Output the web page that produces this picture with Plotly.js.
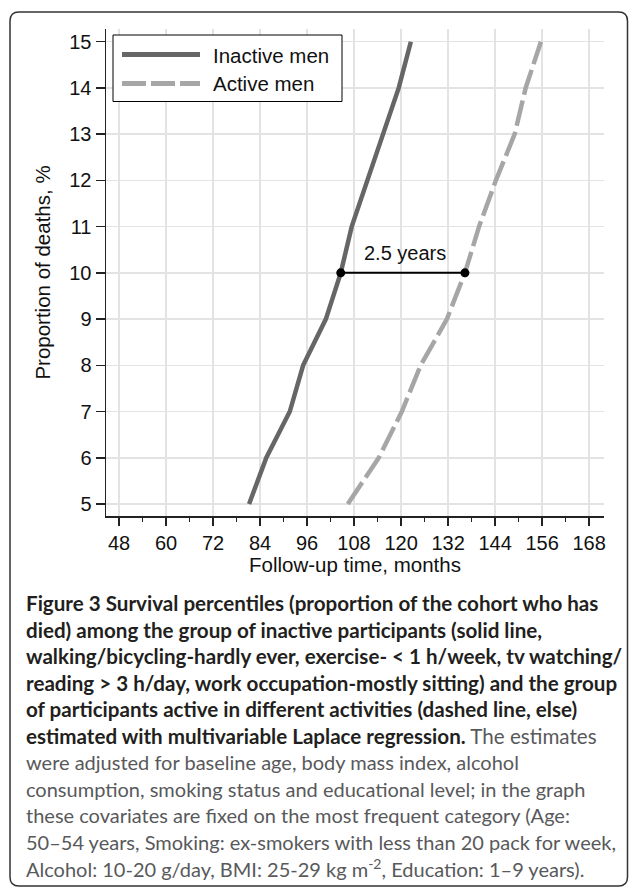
<!DOCTYPE html>
<html>
<head>
<meta charset="utf-8">
<script src="https://cdn.plot.ly/plotly-3.0.1.min.js"></script>
<style>
html,body{margin:0;padding:0;background:#fff;}
#chart{width:629px;height:887px;}
</style>
</head>
<body>
<div id="chart"></div>
<script>
// ---- data ----
var deathProportion = [5, 6, 7, 8, 9, 10, 11, 12, 13, 14, 15];
var inactiveMonths = [81.2, 85.6, 91.6, 95.0, 100.8, 104.6, 107.4, 111.5, 115.3, 119.4, 122.5];
var activeMonths   = [106.4, 114.3, 120.2, 125.0, 131.7, 136.3, 139.9, 144.2, 149.0, 151.8, 155.7];
var seriesNames = ["Inactive men", "Active men"];
var xTicks = [48, 60, 72, 84, 96, 108, 120, 132, 144, 156, 168];
var yTicks = [5, 6, 7, 8, 9, 10, 11, 12, 13, 14, 15];
var gapLevel = 10;
var gapLabel = "2.5 years";
var captionLines = [
  "<b>Figure 3 Survival percentiles (proportion of the cohort who has</b>",
  "<b>died) among the group of inactive participants (solid line,</b>",
  "<b>walking/bicycling-hardly ever, exercise- &lt; 1 h/week, tv watching/</b>",
  "<b>reading &gt; 3 h/day, work occupation-mostly sitting) and the group</b>",
  "<b>of participants active in different activities (dashed line, else)</b>",
  "<b>estimated with multivariable Laplace regression.</b><span style=\"color:#58595b\"> The estimates</span>",
  "<span style=\"color:#58595b\">were adjusted for baseline age, body mass index, alcohol</span>",
  "<span style=\"color:#58595b\">consumption, smoking status and educational level; in the graph</span>",
  "<span style=\"color:#58595b\">these covariates are fixed on the most frequent category (Age:</span>",
  "<span style=\"color:#58595b\">50–54 years, Smoking: ex-smokers with less than 20 pack for week,</span>",
  "<span style=\"color:#58595b\">Alcohol: 10-20 g/day, BMI: 25-29 kg m<sup>-2</sup>, Education: 1–9 years).</span>"
];
var captionBold = [true, true, true, true, true, true, false, false, false, false, false];

// ---- layout geometry (pixels) ----
var W = 629, H = 887;
var M = {l: 106, r: 25, t: 29, b: 371};
var PW = W - M.l - M.r, PH = H - M.t - M.b;
function px(x) { return (x - M.l) / PW; }
function py(y) { return (M.t + PH - y) / PH; }

var gi = deathProportion.indexOf(gapLevel);
var gapX = [inactiveMonths[gi], activeMonths[gi]];

var AX_FONT = 'Liberation Sans, Arial, sans-serif';

var traces = [
  {x: inactiveMonths, y: deathProportion, mode: 'lines', name: seriesNames[0],
   line: {color: '#666666', width: 4.5}, showlegend: false, hoverinfo: 'x+y'},
  {x: activeMonths, y: deathProportion, mode: 'lines', name: seriesNames[1],
   line: {color: '#a6a6a6', width: 4.5, dash: '26px,6px'}, showlegend: false, hoverinfo: 'x+y'},
  {x: gapX, y: [gapLevel, gapLevel], mode: 'lines+markers', showlegend: false,
   line: {color: '#000', width: 2}, marker: {color: '#000', size: 9}, hoverinfo: 'skip'}
];

function pathFrom(x0, y0, x1, y1, r) {
  function P(a, b) { return px(a).toFixed(5) + ',' + py(b).toFixed(5); }
  return 'M' + P(x0 + r, y0) + ' L' + P(x1 - r, y0) + ' Q' + P(x1, y0) + ' ' + P(x1, y0 + r) +
         ' L' + P(x1, y1 - r) + ' Q' + P(x1, y1) + ' ' + P(x1 - r, y1) +
         ' L' + P(x0 + r, y1) + ' Q' + P(x0, y1) + ' ' + P(x0, y1 - r) +
         ' L' + P(x0, y0 + r) + ' Q' + P(x0, y0) + ' ' + P(x0 + r, y0) + ' Z';
}

var shapes = [
  {type: 'path', xref: 'paper', yref: 'paper', path: pathFrom(10, 12, 627.5, 886, 9),
   line: {color: '#333', width: 1.5}, fillcolor: 'rgba(0,0,0,0)', layer: 'below'},
  // legend box
  {type: 'rect', xref: 'paper', yref: 'paper', x0: px(113), x1: px(342), y0: py(35), y1: py(101.5),
   line: {color: '#000', width: 1}, fillcolor: '#fff', layer: 'above'},
  {type: 'line', xref: 'paper', yref: 'paper', x0: px(122), x1: px(200), y0: py(54.5), y1: py(54.5),
   line: {color: '#666666', width: 5}, layer: 'above'},
  {type: 'line', xref: 'paper', yref: 'paper', x0: px(122), x1: px(200), y0: py(83.5), y1: py(83.5),
   line: {color: '#a6a6a6', width: 5, dash: '24px,5px'}, layer: 'above'}
];

var annotations = [
  {xref: 'paper', yref: 'paper', x: px(211), y: py(55), xanchor: 'left', yanchor: 'middle',
   text: seriesNames[0], showarrow: false, font: {family: AX_FONT, size: 20.5, color: '#111'}},
  {xref: 'paper', yref: 'paper', x: px(211), y: py(84), xanchor: 'left', yanchor: 'middle',
   text: seriesNames[1], showarrow: false, font: {family: AX_FONT, size: 20.5, color: '#111'}},
  {xref: 'x', yref: 'y', x: (gapX[0] + gapX[1]) / 2 + 0.5, y: gapLevel, yshift: 20,
   text: gapLabel, showarrow: false, font: {family: AX_FONT, size: 20, color: '#111'}}
];
for (var i = 0; i < captionLines.length; i++) {
  annotations.push({xref: 'paper', yref: 'paper', x: px(24), y: py(603 + i * 26.5),
    xanchor: 'left', yanchor: 'middle', align: 'left', showarrow: false,
    text: captionLines[i],
    font: {family: 'Lato, Open Sans, sans-serif', size: captionBold[i] ? 20.6 : 20, color: '#231f20'}});
}

var layout = {
  width: W, height: H,
  margin: M,
  paper_bgcolor: '#fff', plot_bgcolor: '#fff',
  showlegend: false,
  xaxis: {
    range: [44.68, 171.8], tickvals: xTicks, ticktext: xTicks.map(String),
    ticks: 'outside', ticklen: 8, tickwidth: 1.5, tickcolor: '#222',
    minor: {dtick: 12, tick0: 54, ticks: 'outside', ticklen: 4, tickwidth: 1.5, tickcolor: '#222', showgrid: false},
    showline: true, linecolor: '#222', linewidth: 1.5,
    showgrid: true, gridcolor: '#e3e3e3', gridwidth: 1.5, zeroline: false,
    tickfont: {family: AX_FONT, size: 20, color: '#111'},
    title: {text: 'Follow-up time, months', standoff: 5, font: {family: AX_FONT, size: 20.5, color: '#111'}}
  },
  yaxis: {
    range: [4.74, 15.275], tickvals: yTicks, ticktext: yTicks.map(String),
    ticks: 'outside', ticklen: 9, tickwidth: 1.5, tickcolor: '#222',
    showline: true, linecolor: '#222', linewidth: 1.5,
    showgrid: true, gridcolor: '#e3e3e3', gridwidth: 1.5, zeroline: false,
    tickfont: {family: AX_FONT, size: 20, color: '#111'},
    title: {text: 'Proportion of deaths, %', standoff: 13, font: {family: AX_FONT, size: 20.5, color: '#111'}}
  },
  shapes: shapes,
  annotations: annotations
};

Plotly.newPlot('chart', traces, layout, {staticPlot: true, displayModeBar: false});
</script>
</body>
</html>
